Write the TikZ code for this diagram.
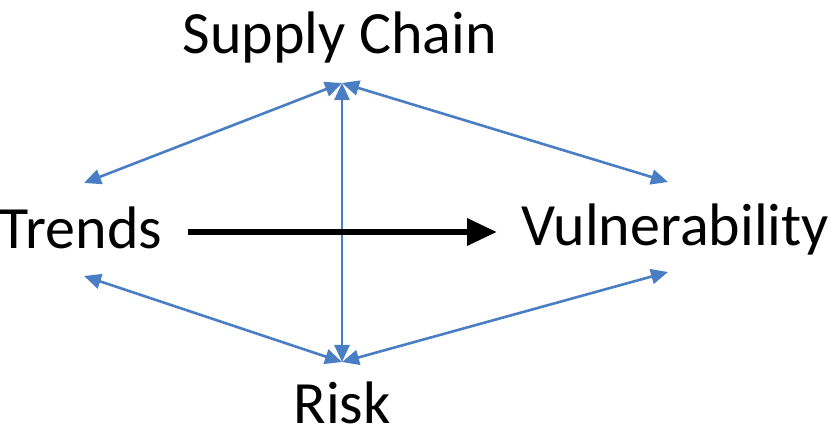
\documentclass[tikz,border=0pt]{standalone}
\usepackage{fontspec}
\setmainfont{Carlito}
\usetikzlibrary{arrows.meta,positioning}
\definecolor{ink}{HTML}{000000}
\definecolor{blue}{HTML}{4A7EC4}
\tikzset{
  every node/.style={font=\fontsize{60}{64}\selectfont, text=ink, inner sep=0pt},
  term/.style={anchor=base},
  bluearrow/.style={{Triangle[length=17pt,width=15pt]}-{Triangle[length=17pt,width=15pt]}, line width=2.6pt, draw=blue},
  arrow/.style={-{Triangle[length=30pt,width=26pt]}, line width=6.5pt, draw=ink},
}
\begin{document}
\begin{tikzpicture}[x=1pt, y=-1pt]
\useasboundingbox (0,0) rectangle (836,438);
\node[term] (sc) at (340,54) {Supply Chain};
\node[term] (trends) at (81,249) {Trends};
\node[term] (vuln) at (675,246) {Vulnerability};
\node[term] (risk) at (342,424) {Risk};
\coordinate (top) at (342,83);
\coordinate (bot) at (342,362);
\coordinate (tl) at (84,183);
\coordinate (tr) at (668,182);
\coordinate (bl) at (84,276);
\coordinate (br) at (668,272);
\draw[bluearrow] (top) -- (tl);
\draw[bluearrow] (top) -- (tr);
\draw[bluearrow] (top) -- (bot);
\draw[bluearrow] (bot) -- (bl);
\draw[bluearrow] (bot) -- (br);
\draw[arrow] (188,232) coordinate (a) -- (497,232) coordinate (b);
\end{tikzpicture}
\end{document}
